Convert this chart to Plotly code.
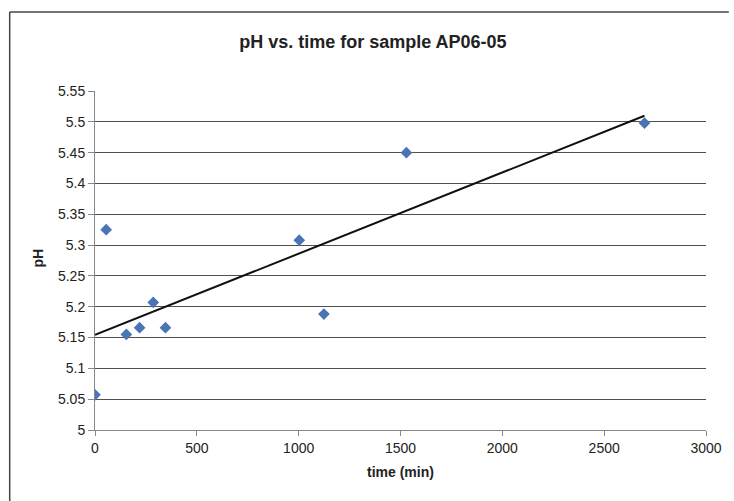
import numpy as np
import plotly.graph_objects as go

time_min = [0, 55, 154, 219, 286, 346, 1003, 1124, 1529, 2698]
ph_values = [5.057, 5.325, 5.155, 5.166, 5.207, 5.166, 5.308, 5.188, 5.45, 5.498]
x_ticks = [0, 500, 1000, 1500, 2000, 2500, 3000]
y_ticks = [5, 5.05, 5.1, 5.15, 5.2, 5.25, 5.3, 5.35, 5.4, 5.45, 5.5, 5.55]
y_tick_labels = ["5", "5.05", "5.1", "5.15", "5.2", "5.25", "5.3", "5.35", "5.4", "5.45", "5.5", "5.55"]

slope, intercept = np.polyfit(time_min, ph_values, 1)
trend_x = [0, max(time_min)]
trend_y = [intercept + slope * v for v in trend_x]

FONT = "Liberation Sans, Arial, sans-serif"

fig = go.Figure()
fig.add_trace(go.Scatter(x=trend_x, y=trend_y, mode="lines",
                         line=dict(color="#111111", width=2), showlegend=False, hoverinfo="skip"))
fig.add_trace(go.Scatter(x=time_min, y=ph_values, mode="markers",
                         marker=dict(symbol="diamond", size=9, color="#4A74B4"),
                         showlegend=False))

fig.update_layout(
    width=734, height=501,
    margin=dict(l=95, r=19, t=91, b=71),
    paper_bgcolor="white", plot_bgcolor="white",
    font=dict(family=FONT, color="#222222"),
    title=dict(text="<b>pH vs. time for sample AP06-05</b>", x=0.508, xanchor="center",
               y=1 - 42 / 501, yanchor="middle", font=dict(size=18, color="#222222")),
    xaxis=dict(range=[0, 3000], tickvals=x_ticks, ticks="outside", ticklen=5, tickcolor="#888888",
               showline=True, linecolor="#888888", linewidth=1, showgrid=False, zeroline=False,
               tickfont=dict(size=14, color="#222222")),
    yaxis=dict(range=[5, 5.55], tickvals=y_ticks, ticktext=y_tick_labels, ticks="outside", ticklen=6,
               tickcolor="#888888", showline=True, linecolor="#888888", linewidth=1,
               showgrid=True, gridcolor="#505050", gridwidth=1, zeroline=False,
               tickfont=dict(size=14, color="#222222")),
    annotations=[
        dict(text="<b>time (min)</b>", xref="paper", yref="paper", x=0.5, y=-(472 - 430) / 339,
             xanchor="center", yanchor="middle", showarrow=False, font=dict(size=14, color="#222222")),
        dict(text="<b>pH</b>", xref="paper", yref="paper", x=(38 - 95) / 616, y=(430 - 258) / 339,
             xanchor="center", yanchor="middle", textangle=-90, showarrow=False,
             font=dict(size=14, color="#222222")),
    ],
    shapes=[
        dict(type="line", xref="paper", yref="paper", x0=(9 - 95) / 616, x1=(734 - 95) / 616,
             y0=(430 - 12) / 339, y1=(430 - 12) / 339, line=dict(color="#444444", width=1.5)),
        dict(type="line", xref="paper", yref="paper", x0=(9 - 95) / 616, x1=(9 - 95) / 616,
             y0=(430 - 12) / 339, y1=(430 - 501) / 339, line=dict(color="#444444", width=1.5)),
    ],
)

fig.write_html("out.html")
